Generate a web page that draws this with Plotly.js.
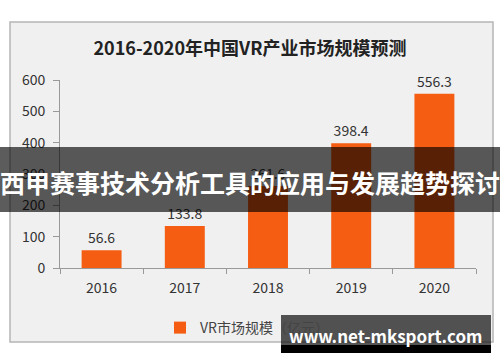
<!DOCTYPE html>
<html><head><meta charset="utf-8">
<script src="https://cdn.plot.ly/plotly-3.0.1.min.js"></script>
<style>html,body{margin:0;padding:0;background:#fff;}#chart{width:500px;height:362px;}</style>
</head><body><div id="chart"></div>
<script>
const years = ['2016','2017','2018','2019','2020'];
const marketSize = [56.6, 133.8, 261.6, 398.4, 556.3];
const seriesName = 'VR市场规模（亿元）';
const chartTitle = '2016-2020年中国VR产业市场规模预测';
const bannerText = '西甲赛事技术分析工具的应用与发展趋势探讨';
const watermarkText = 'www.net-mksport.com';
const yTicks = [0,100,200,300,400,500,600];

const W = 500, H = 362, L = 60, R = 24, T = 80, B = 94;
const PW = W - L - R, PH = H - T - B;
const px = x => (x - L) / PW;
const py = y => (H - B - y) / PH;
const font = '"Noto Sans CJK SC", "Noto Sans", sans-serif';

const trace = {
  type: 'bar', x: years, y: marketSize, name: seriesName,
  marker: {color: '#f45d12'}, width: 0.48,
  text: marketSize.map(v => v.toFixed(1)), textposition: 'outside',
  textfont: {size: 14, color: '#333', family: font}, cliponaxis: false
};

const layout = {
  width: W, height: H,
  margin: {l: L, r: R, t: T, b: B},
  paper_bgcolor: '#ffffff', plot_bgcolor: 'rgba(0,0,0,0)',
  font: {family: font, color: '#333'},
  showlegend: true,
  legend: {orientation: 'h', x: px(160), y: py(312), xanchor: 'left', yanchor: 'top',
    font: {size: 14, color: '#444', family: font}, bgcolor: 'rgba(0,0,0,0)'},
  title: {text: '<b>' + chartTitle + '</b>', x: 0.5, xref: 'container', xanchor: 'center',
    y: 1 - 49 / H, yref: 'container', yanchor: 'middle', font: {size: 18, color: '#222', family: font}},
  xaxis: {type: 'category', showline: true, linecolor: '#999', ticks: 'outside',
    tickson: 'boundaries', ticklen: 5, tickcolor: '#999', showgrid: false,
    ticklabelstandoff: 7,
    tickfont: {size: 14, color: '#333'}, range: [-0.5, 4.5]},
  yaxis: {range: [0, 600], tickvals: yTicks, showline: true, linecolor: '#999',
    ticks: 'outside', ticklen: 6, tickcolor: '#999', showgrid: false, zeroline: false,
    ticklabelstandoff: 5,
    tickfont: {size: 14, color: '#333'}},
  shapes: [
    {type: 'rect', xref: 'paper', yref: 'paper', x0: px(10), x1: px(493), y0: py(22), y1: py(342),
      fillcolor: '#f0f0f0', line: {color: '#b5b5b5', width: 1.5}, layer: 'below'},
    {type: 'rect', xref: 'paper', yref: 'paper', x0: px(0), x1: px(500), y0: py(147), y1: py(212),
      fillcolor: 'rgba(0,0,0,0.64)', line: {width: 0}, layer: 'above'},
    {type: 'rect', xref: 'paper', yref: 'paper', x0: px(281), x1: px(491), y0: py(315), y1: py(345),
      fillcolor: 'rgba(20,20,20,0.72)', line: {width: 0}, layer: 'above'},
    {type: 'rect', xref: 'paper', yref: 'paper', x0: px(281), x1: px(491), y0: py(345), y1: py(353),
      fillcolor: '#000', line: {width: 0}, layer: 'above'}
  ],
  annotations: [
    {text: '<b>' + bannerText + '</b>', xref: 'paper', yref: 'paper', x: px(250), y: py(182),
      xanchor: 'center', yanchor: 'middle', showarrow: false,
      font: {size: 25, color: '#fff', family: font}},
    {text: '<b>' + watermarkText + '</b>', xref: 'paper', yref: 'paper', x: px(385), y: py(335),
      xanchor: 'center', yanchor: 'middle', showarrow: false,
      font: {size: 17, color: '#fff', family: font}}
  ]
};

Plotly.newPlot('chart', [trace], layout, {displayModeBar: false, staticPlot: true});
</script></body></html>
